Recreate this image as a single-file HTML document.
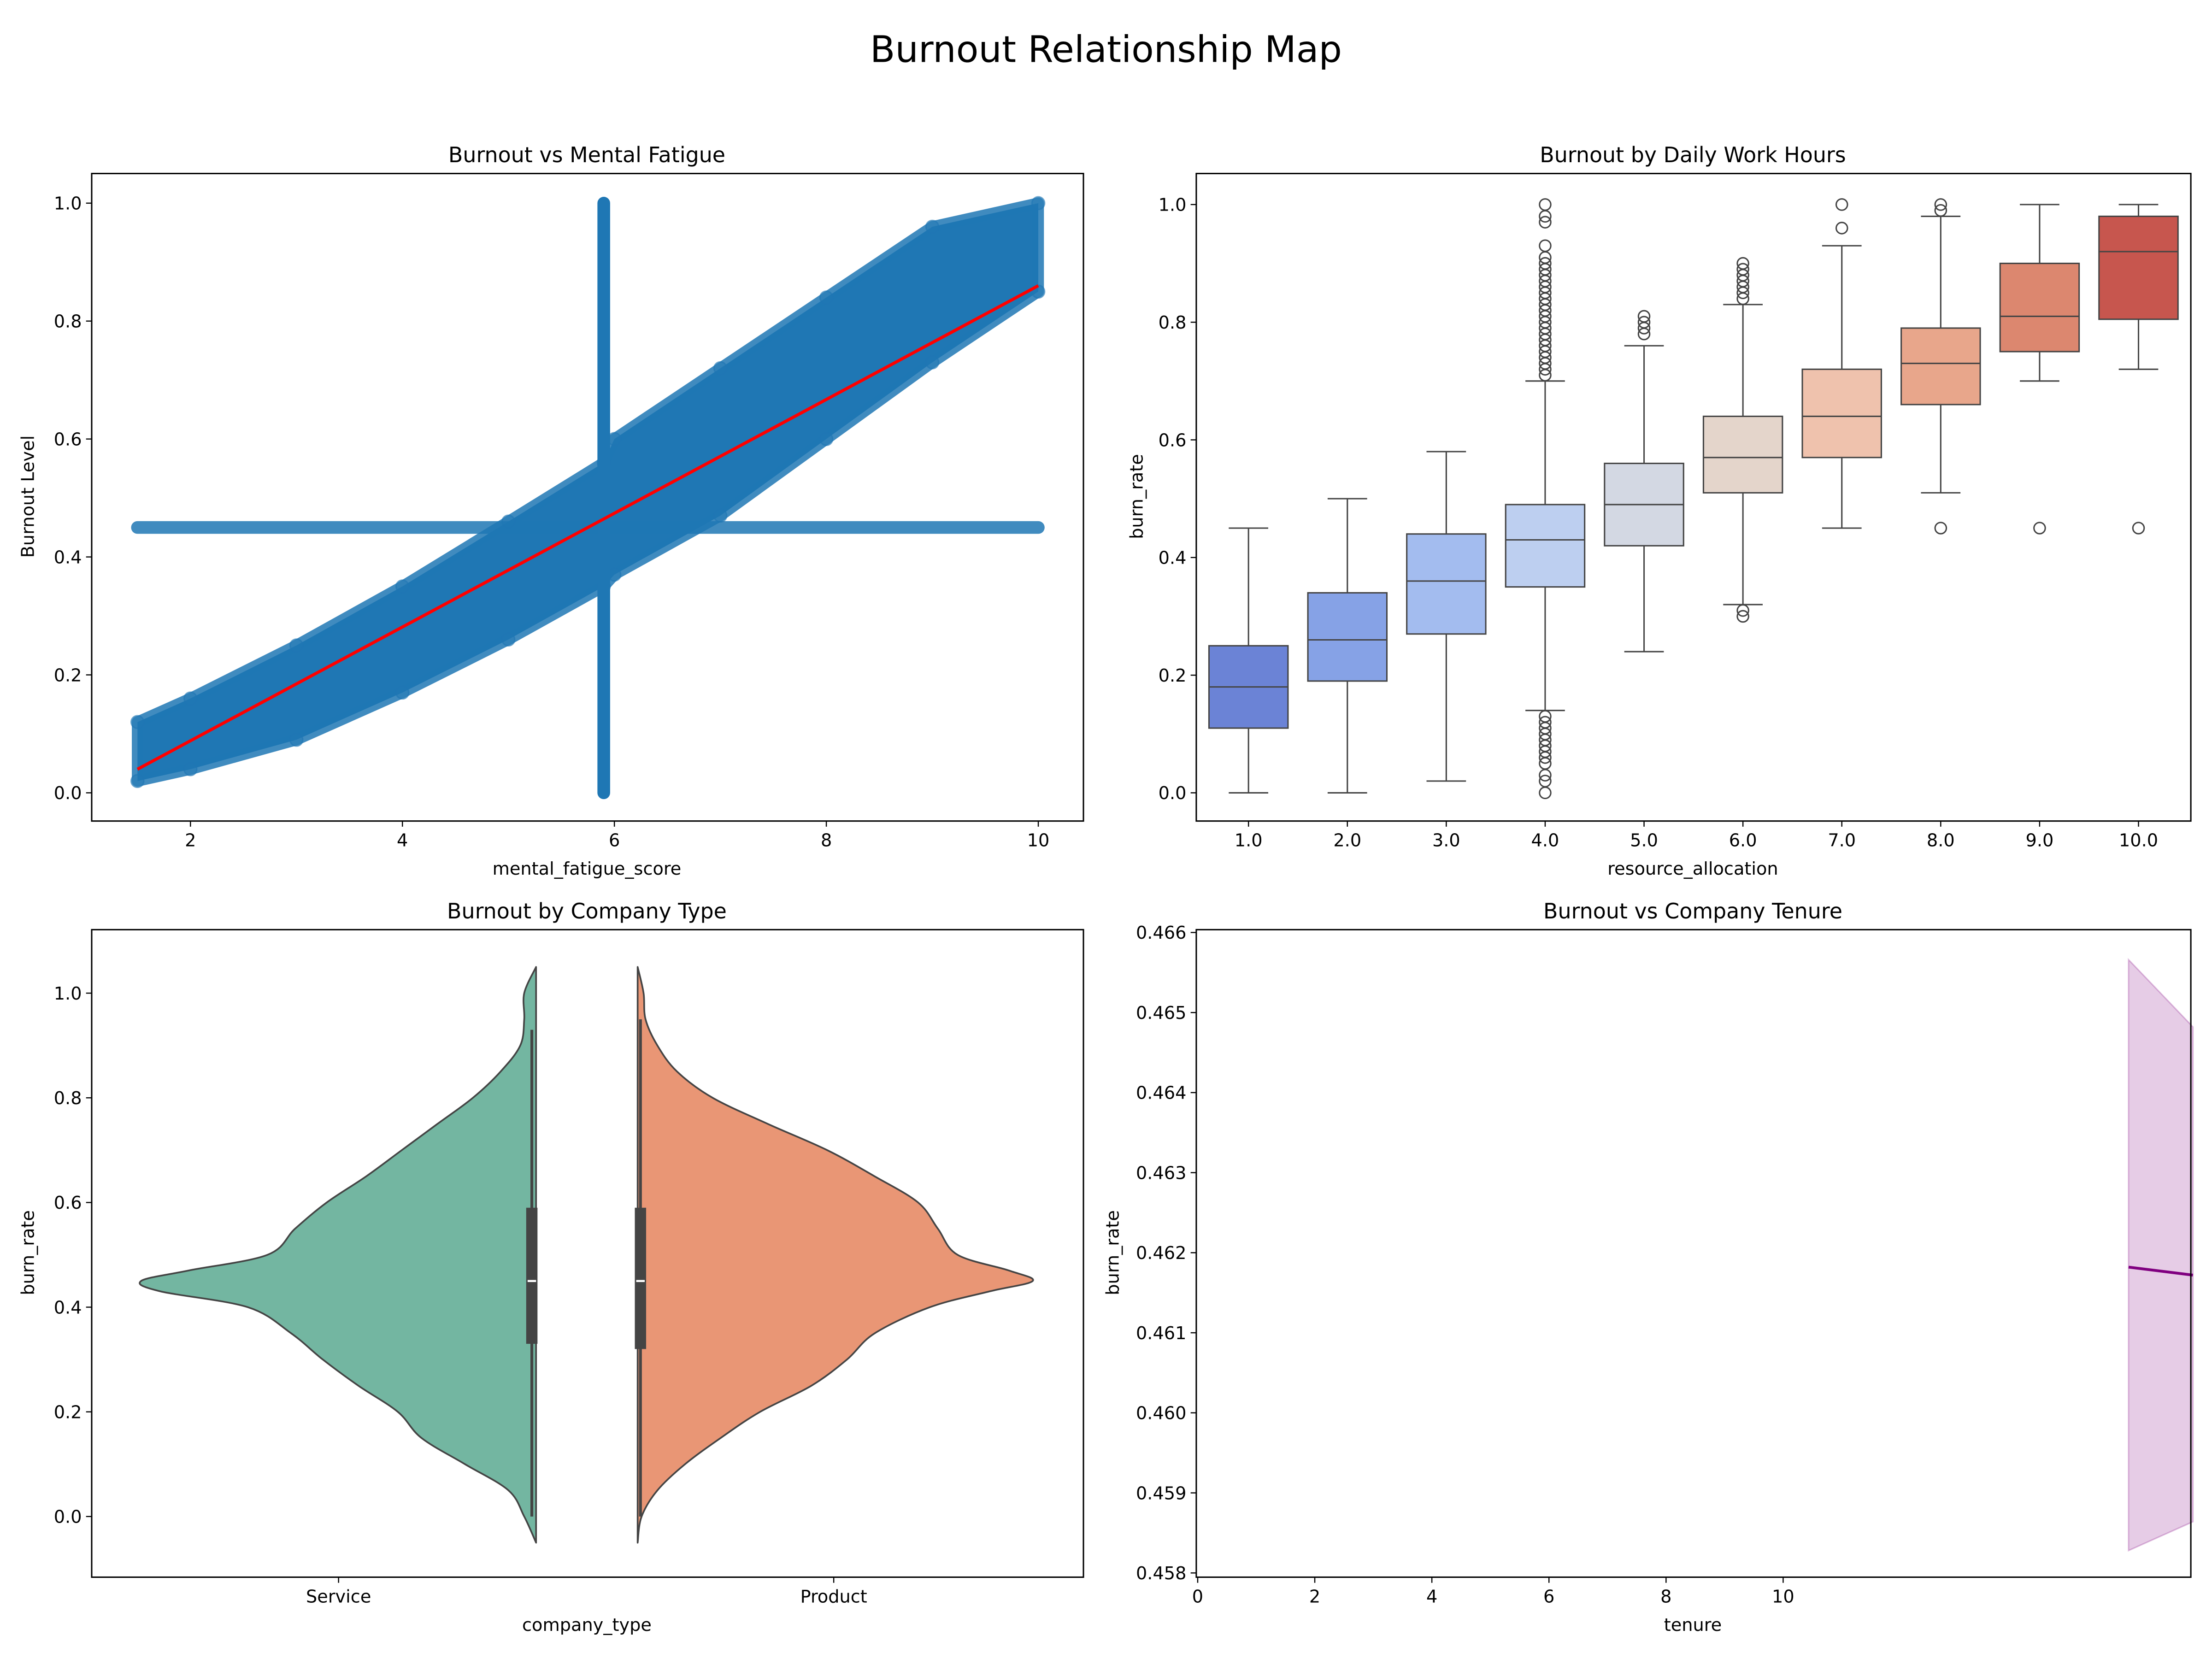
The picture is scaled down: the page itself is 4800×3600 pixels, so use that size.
<!DOCTYPE html>
<html><head><meta charset="utf-8"><style>
html,body{margin:0;padding:0;background:#fff}
svg{display:block}
text{font-family:"DejaVu Sans","Liberation Sans",sans-serif;fill:#000}
</style></head><body>
<svg id="fig" xmlns="http://www.w3.org/2000/svg" width="4800" height="3600" viewBox="0 0 1568 1176">
<rect width="1568" height="1176" fill="#fff"/>
<text x="784" y="44" font-size="26" text-anchor="middle">Burnout Relationship Map</text>
<g id="p1"></g>
<g id="p2"></g>
<g id="p3"></g>
<g id="p4"></g>
</svg>
<script>
// ---------- data ----------
const scatterEnvX = [1.5,2,3,4,5,5.9,6,7,8,9,10];
const scatterEnvLow = [0.02,0.04,0.09,0.17,0.26,0.35,0.37,0.47,0.60,0.73,0.85];
const scatterEnvHigh = [0.12,0.16,0.25,0.35,0.46,0.56,0.60,0.72,0.84,0.96,1.0];
const fitLineX = [1.5,10];
const fitLineY = [0.04,0.86];
const constRowY = 0.45, constRowX = [1.5,10];
const constColX = 5.9, constColY = [0.0,1.0];
const scatterXTicks = [2,4,6,8,10];
const yTicks01 = [0.0,0.2,0.4,0.6,0.8,1.0];

const boxCats = ["1.0","2.0","3.0","4.0","5.0","6.0","7.0","8.0","9.0","10.0"];
const boxQ1 = [0.11,0.19,0.27,0.35,0.42,0.51,0.57,0.66,0.75,0.805];
const boxMed = [0.18,0.26,0.36,0.43,0.49,0.57,0.64,0.73,0.81,0.92];
const boxQ3 = [0.25,0.34,0.44,0.49,0.56,0.64,0.72,0.79,0.90,0.98];
const boxLo = [0.0,0.0,0.02,0.14,0.24,0.32,0.45,0.51,0.70,0.72];
const boxHi = [0.45,0.50,0.58,0.70,0.76,0.83,0.93,0.98,1.0,1.0];
const boxOutliers = [[],[],[],
 [0,0.02,0.03,0.05,0.06,0.07,0.08,0.09,0.1,0.11,0.12,0.13,0.71,0.72,0.73,0.74,0.75,0.76,0.77,0.78,0.79,0.8,0.81,0.82,0.83,0.84,0.85,0.86,0.87,0.88,0.89,0.9,0.91,0.93,0.97,0.98,1.0],
 [0.78,0.79,0.8,0.81],[0.3,0.31,0.84,0.85,0.86,0.87,0.88,0.89,0.9],[0.96,1.0],[0.45,0.99,1.0],[0.45],[0.45]];
const boxColors = ["#6b83d6","#86a2e6","#a3bcef","#bdcff0","#d3d8e3","#e4d5cb","#efc2ad","#e8a68b","#dc876f","#c7564e"];

const violinY = [-0.05,0,0.05,0.1,0.15,0.2,0.25,0.3,0.35,0.4,0.43,0.45,0.47,0.5,0.55,0.6,0.65,0.7,0.75,0.8,0.85,0.9,0.95,1.0,1.05];
const serviceDensity = [0,0.03,0.07,0.18,0.29,0.35,0.45,0.54,0.62,0.73,0.95,1.0,0.88,0.68,0.61,0.53,0.43,0.34,0.25,0.16,0.09,0.04,0.03,0.03,0];
const productDensity = [0,0.01,0.05,0.12,0.21,0.31,0.44,0.53,0.6,0.74,0.89,1.0,0.94,0.81,0.76,0.71,0.6,0.48,0.33,0.19,0.1,0.05,0.02,0.015,0];
const violinBoxQ1 = [0.33,0.32], violinBoxMed=[0.45,0.45], violinBoxQ3=[0.59,0.59], violinWLo=[0,0], violinWHi=[0.93,0.95];
const violinCats = ["Service","Product"];
const violinYTicks = [0.0,0.2,0.4,0.6,0.8,1.0];

const tenureX = [15.9,17.0];
const tenureMean = [0.46182,0.46172];
const tenureUpper = [0.46566,0.46482];
const tenureLower = [0.45828,0.45864];
const tenureXTicks = [0,2,4,6,8,10];
const tenureYTicks = ["0.458","0.459","0.460","0.461","0.462","0.463","0.464","0.465","0.466"];

// ---------- helpers ----------
const NS="http://www.w3.org/2000/svg";
function mk(parent,tag,attrs,txt){const e=document.createElementNS(NS,tag);for(const k in attrs)e.setAttribute(k,attrs[k]);if(txt!==undefined)e.textContent=txt;parent.appendChild(e);return e;}
function lin(d0,d1,r0,r1){return v=>r0+(v-d0)/(d1-d0)*(r1-r0);}
function smooth(pts){let d='M'+pts[0][0]+','+pts[0][1];for(let i=0;i<pts.length-1;i++){const p0=pts[i-1]||pts[i],p1=pts[i],p2=pts[i+1],p3=pts[i+2]||p2;
 d+=` C${p1[0]+(p2[0]-p0[0])/6},${p1[1]+(p2[1]-p0[1])/6} ${p2[0]-(p3[0]-p1[0])/6},${p2[1]-(p3[1]-p1[1])/6} ${p2[0]},${p2[1]}`;}return d;}
function frame(g,x0,y0,x1,y1){const r=mk(g,'rect',{x:x0,y:y0,width:x1-x0,height:y1-y0,fill:'none',stroke:'#000','stroke-width':1});}
function title(g,x,y,t){const e=mk(g,'text',{x:x,y:y,'font-size':15,'text-anchor':'middle'},t);}
function xtick(g,x,yb,label){const t=mk(g,'line',{x1:x,x2:x,y1:yb,y2:yb+4,stroke:'#000','stroke-width':0.8});
 const l=mk(g,'text',{x:x,y:yb+18,'font-size':12.5,'text-anchor':'middle'},label);}
function ytick(g,xl,y,label){const t=mk(g,'line',{x1:xl-4,x2:xl,y1:y,y2:y,stroke:'#000','stroke-width':0.8});
 const l=mk(g,'text',{x:xl-7,y:y+4.5,'font-size':12.5,'text-anchor':'end'},label);}
function xlabel(g,x,y,t){const e=mk(g,'text',{x:x,y:y,'font-size':12.5,'text-anchor':'middle'},t);}
function ylabel(g,x,y,t){const e=mk(g,'text',{x:x,y:y,'font-size':12.5,'text-anchor':'middle',transform:`rotate(-90 ${x} ${y})`},t);}

// ---------- panel 1 scatter ----------
(function(){
const g=document.getElementById('p1');
const X=lin(2,10,135,736), Y=lin(0,1,562,144);
const blue='#1f77b4';
let pts=scatterEnvX.map((x,i)=>X(x)+','+Y(scatterEnvHigh[i]));
for(let i=scatterEnvX.length-1;i>=0;i--)pts.push(X(scatterEnvX[i])+','+Y(scatterEnvLow[i]));
const band=mk(g,'polygon',{points:pts.join(' '),fill:blue,stroke:blue,'stroke-width':8,'stroke-linejoin':'round','stroke-opacity':0.85});

scatterEnvX.forEach((x,i)=>{[scatterEnvLow[i],scatterEnvHigh[i]].forEach(v=>{const c=mk(g,'circle',{cx:X(x),cy:Y(v),r:4.5,fill:blue,'fill-opacity':0.5,stroke:blue,'stroke-opacity':0.6});});});
const row=mk(g,'line',{x1:X(constRowX[0]),x2:X(constRowX[1]),y1:Y(constRowY),y2:Y(constRowY),stroke:blue,'stroke-width':9,'stroke-linecap':'round','stroke-opacity':0.85});

const col=mk(g,'line',{x1:X(constColX),x2:X(constColX),y1:Y(constColY[0]),y2:Y(constColY[1]),stroke:blue,'stroke-width':9,'stroke-linecap':'round'});

const fit=mk(g,'line',{x1:X(fitLineX[0]),x2:X(fitLineX[1]),y1:Y(fitLineY[0]),y2:Y(fitLineY[1]),stroke:'#ff0000','stroke-width':2.2});

frame(g,65,123,768,582);
scatterXTicks.forEach(t=>xtick(g,X(t),582,String(t)));
yTicks01.forEach(t=>ytick(g,65,Y(t),t.toFixed(1)));
title(g,416,115,'Burnout vs Mental Fatigue');
xlabel(g,416,620,'mental_fatigue_score');
ylabel(g,24,352,'Burnout Level');
})();

// ---------- panel 2 boxplot ----------
(function(){
const g=document.getElementById('p2');
const X=i=>885+i*70.1, Y=lin(0,1,562,145), hw=28;
boxCats.forEach((c,i)=>{
 const x=X(i), s='#444';
 const w1=mk(g,'line',{x1:x,x2:x,y1:Y(boxLo[i]),y2:Y(boxQ1[i]),stroke:s,'stroke-width':1});
 const w2=mk(g,'line',{x1:x,x2:x,y1:Y(boxQ3[i]),y2:Y(boxHi[i]),stroke:s,'stroke-width':1});
 [boxLo[i],boxHi[i]].forEach(v=>{const cap=mk(g,'line',{x1:x-hw/2,x2:x+hw/2,y1:Y(v),y2:Y(v),stroke:s,'stroke-width':1});});
 const b=mk(g,'rect',{x:x-hw,y:Y(boxQ3[i]),width:2*hw,height:Y(boxQ1[i])-Y(boxQ3[i]),fill:boxColors[i],stroke:s,'stroke-width':1});
 const m=mk(g,'line',{x1:x-hw,x2:x+hw,y1:Y(boxMed[i]),y2:Y(boxMed[i]),stroke:s,'stroke-width':1});
 boxOutliers[i].forEach(v=>{const o=mk(g,'circle',{cx:x,cy:Y(v),r:4,fill:'none',stroke:s,'stroke-width':1});});
});
frame(g,848,123,1553,582);
boxCats.forEach((c,i)=>xtick(g,X(i),582,c));
yTicks01.forEach(t=>ytick(g,848,Y(t),t.toFixed(1)));
title(g,1200,115,'Burnout by Daily Work Hours');
xlabel(g,1200,620,'resource_allocation');
ylabel(g,810,352,'burn_rate');
})();

// ---------- panel 3 violin ----------
(function(){
const g=document.getElementById('p3');
const Y=lin(0,1,1075,704), maxW=280;
const edges=[380,452], dirs=[-1,1], fills=['#73b6a1','#e99675'], dens=[serviceDensity,productDensity], names=['violin-service','violin-product'];
const boxC=[377,454];
[0,1].forEach(k=>{
 const pts=violinY.map((y,i)=>[edges[k]+dirs[k]*dens[k][i]*maxW,Y(y)]);
 const d=smooth(pts)+' Z';
 const v=mk(g,'path',{d:d,fill:fills[k],stroke:'#444','stroke-width':1.2,'stroke-linejoin':'round'});
 
 const wl=mk(g,'line',{x1:boxC[k],x2:boxC[k],y1:Y(violinWLo[k]),y2:Y(violinWHi[k]),stroke:'#444','stroke-width':2});
 const bx=mk(g,'rect',{x:boxC[k]-4,y:Y(violinBoxQ3[k]),width:8,height:Y(violinBoxQ1[k])-Y(violinBoxQ3[k]),fill:'#444'});
 const md=mk(g,'line',{x1:boxC[k]-3,x2:boxC[k]+3,y1:Y(violinBoxMed[k]),y2:Y(violinBoxMed[k]),stroke:'#fff','stroke-width':1.5});
});
frame(g,65,659,768,1118);
xtick(g,240,1118,violinCats[0]);xtick(g,591,1118,violinCats[1]);
violinYTicks.forEach(t=>ytick(g,65,Y(t),t.toFixed(1)));
title(g,416,651,'Burnout by Company Type');
xlabel(g,416,1156,'company_type');
ylabel(g,24,888,'burn_rate');
})();

// ---------- panel 4 tenure ----------
(function(){
const g=document.getElementById('p4');
const X=lin(0,10,849,1264), Y=lin(0.458,0.466,1115,661);
let p=tenureX.map((x,i)=>X(x)+','+Y(tenureUpper[i]));
for(let i=tenureX.length-1;i>=0;i--)p.push(X(tenureX[i])+','+Y(tenureLower[i]));
const band=mk(g,'polygon',{points:p.join(' '),fill:'#800080','fill-opacity':0.2,stroke:'#800080','stroke-opacity':0.25});

const ln=mk(g,'polyline',{points:tenureX.map((x,i)=>X(x)+','+Y(tenureMean[i])).join(' '),fill:'none',stroke:'#800080','stroke-width':2});

frame(g,848,659,1553,1118);
tenureXTicks.forEach(t=>xtick(g,X(t),1118,String(t)));
tenureYTicks.forEach(t=>ytick(g,848,Y(parseFloat(t)),t));
title(g,1200,651,'Burnout vs Company Tenure');
xlabel(g,1200,1156,'tenure');
ylabel(g,793,888,'burn_rate');
})();
</script>
</body></html>
